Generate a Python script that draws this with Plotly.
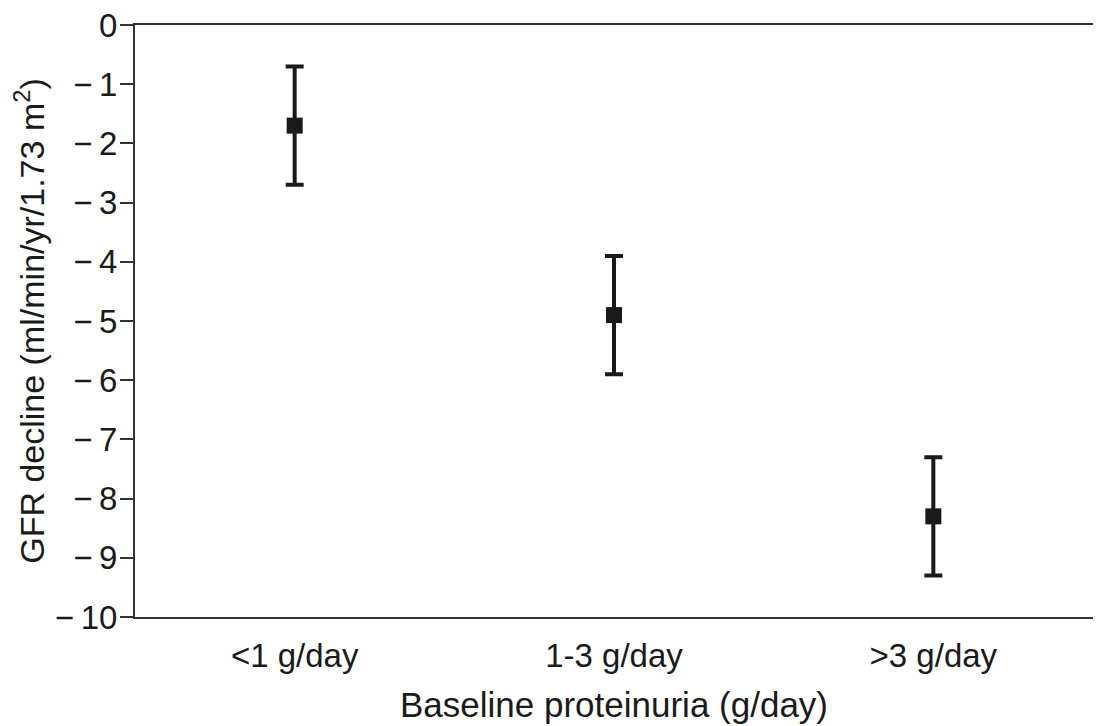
import plotly.graph_objects as go

categories = ["<1 g/day", "1-3 g/day", ">3 g/day"]
gfr_decline = [-1.7, -4.9, -8.3]
err_plus = [1.0, 1.0, 1.0]
err_minus = [1.0, 1.0, 1.0]
y_ticks = [0, -1, -2, -3, -4, -5, -6, -7, -8, -9, -10]
y_tick_labels = ["0"] + ["\u2212\u2009" + str(abs(v)) for v in y_ticks[1:]]

fig = go.Figure()
fig.add_trace(go.Scatter(
    x=categories, y=gfr_decline, mode="markers",
    marker=dict(symbol="square", size=16, color="#1a1a1a"),
    error_y=dict(type="data", array=err_plus, arrayminus=err_minus,
                 color="#1a1a1a", thickness=4, width=9),
    showlegend=False,
))

font = "Liberation Sans, Arial, sans-serif"
fig.update_layout(
    width=1101, height=726,
    margin=dict(l=127, r=16, t=17, b=117),
    plot_bgcolor="white", paper_bgcolor="white",
    font=dict(family=font, size=34, color="#1a1a1a"),
    xaxis=dict(
        type="category", range=[-0.5, 2.5], automargin=False,
        showline=True, linecolor="#333333", linewidth=2, mirror=True,
        ticks="", showgrid=False, zeroline=False,
        ticklabelstandoff=8,
        tickfont=dict(size=33),
        title=dict(text="Baseline proteinuria (g/day)", font=dict(size=35), standoff=20),
    ),
    yaxis=dict(
        range=[-10, 0], tickvals=y_ticks, ticktext=y_tick_labels, automargin=False,
        showline=True, linecolor="#333333", linewidth=2, mirror=True,
        ticks="outside", ticklen=13, tickwidth=2, tickcolor="#333333",
        showgrid=False, zeroline=False,
        ticklabelstandoff=-4, ticklabeloverflow="allow",
        tickfont=dict(size=33),
        title=dict(text="GFR decline (ml/min/yr/1.73 m<sup>2</sup>)", font=dict(size=34), standoff=0),
    ),
)

fig.write_html("out.html")
